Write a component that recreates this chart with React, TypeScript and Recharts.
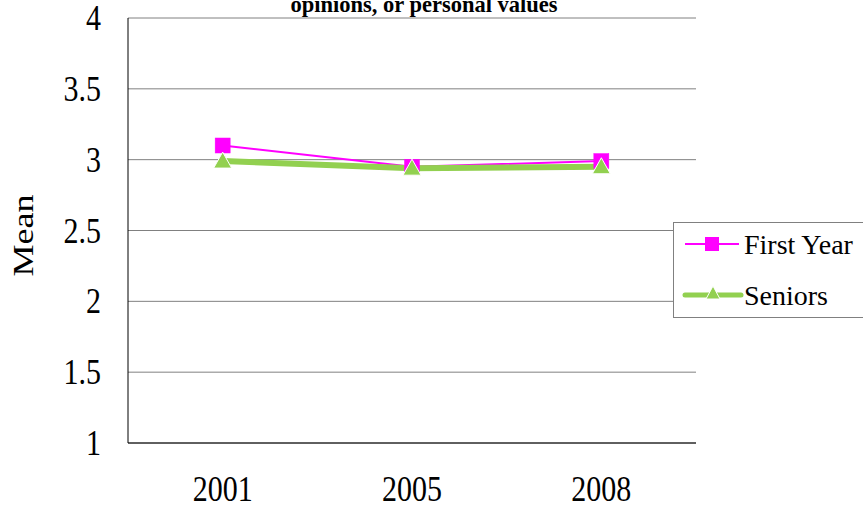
import React from 'react';
import { LineChart, Line, XAxis, YAxis, CartesianGrid, Legend } from 'recharts';

const years = ['2001', '2005', '2008'];
const firstYear = [3.1, 2.95, 2.99];
const seniors = [2.99, 2.94, 2.95];
const yTicks = [1, 1.5, 2, 2.5, 3, 3.5, 4];
const titleText = 'opinions, or personal values';
const yLabel = 'Mean';

const data = years.map((y, i) => ({ year: y, firstYear: firstYear[i], seniors: seniors[i] }));

const FONT = 'Liberation Serif, Times New Roman, serif';
const MAGENTA = '#FF00FF';
const GREEN = '#92D050';
const textStyle = { fontFamily: FONT };

const SquareDot = (props: any) => {
  const { cx, cy } = props;
  if (cx == null || cy == null) return null;
  return <rect x={cx - 7.5} y={cy - 7.5} width={15} height={15} fill={MAGENTA} stroke={MAGENTA} strokeWidth={0.5} />;
};

const TriangleDot = (props: any) => {
  const { cx, cy } = props;
  if (cx == null || cy == null) return null;
  const pts = `${cx},${cy - 9} ${cx - 9},${cy + 7} ${cx + 9},${cy + 7}`;
  return <polygon points={pts} fill={GREEN} stroke="#ffffff" strokeWidth={1} />;
};

const XTick = (props: any) => {
  const { x, y, payload } = props;
  return (
    <g transform={`translate(${x},${y + 58})`}>
      <text transform="scale(1,1.2)" textAnchor="middle" fontSize={30} fill="#000" style={textStyle}>
        {payload.value}
      </text>
    </g>
  );
};

const YTick = (props: any) => {
  const { x, y, payload } = props;
  return (
    <g transform={`translate(${x},${y + 12})`}>
      <text transform="scale(1,1.2)" textAnchor="end" fontSize={30} fill="#000" style={textStyle}>
        {String(payload.value)}
      </text>
    </g>
  );
};

const renderLegend = (props: any) => {
  const payload = props.payload || [];
  const rowsY = [22, 73];
  return (
    <div
      style={{
        width: 190,
        height: 96,
        border: '1px solid #808080',
        borderRight: 'none',
        background: '#ffffff',
        boxSizing: 'border-box',
      }}
    >
      <svg width={189} height={94} style={{ display: 'block' }}>
        {payload.map((entry: any, i: number) => {
          const cy = rowsY[i] - 1;
          const isFirst = i === 0;
          return (
            <g key={i}>
              {isFirst ? (
                <>
                  <line x1={11} x2={65} y1={cy} y2={cy} stroke={entry.color} strokeWidth={2} />
                  <rect x={31} y={cy - 7} width={14} height={14} fill={entry.color} />
                </>
              ) : (
                <>
                  <line x1={11} x2={67} y1={cy} y2={cy} stroke={entry.color} strokeWidth={5} strokeLinecap="round" />
                  <polygon points={`${39},${cy - 9} ${32},${cy + 4} ${46},${cy + 4}`} fill={entry.color} stroke="#fff" strokeWidth={1} />
                </>
              )}
              <text x={70} y={cy + 10} fontSize={28} fill="#000" style={textStyle}>
                {entry.value}
              </text>
            </g>
          );
        })}
      </svg>
    </div>
  );
};

const MeanLabel = (props: any) => {
  const vb = props.viewBox || { x: 0, y: 18, width: 128, height: 425 };
  const x = vb.x + 33;
  const y = vb.y + vb.height / 2 + 5;
  return (
    <text
      transform={`translate(${x},${y}) rotate(-90) scale(1.2,1)`}
      textAnchor="middle"
      fontSize={30}
      fill="#000"
      style={textStyle}
    >
      {yLabel}
    </text>
  );
};

export default function App() {
  return (
    <div style={{ position: 'relative', width: 863, height: 505, overflow: 'hidden', background: '#fff', fontFamily: FONT }}>
      <style>{'body{margin:0;}'}</style>
      <LineChart width={863} height={505} data={data} margin={{ top: 18, right: 167, bottom: 0, left: 0 }}>
        <CartesianGrid vertical={false} stroke="#808080" strokeWidth={1} />
        <XAxis
          dataKey="year"
          scale="band"
          height={62}
          tickLine={false}
          tickSize={0}
          tickMargin={0}
          axisLine={{ stroke: '#000', strokeWidth: 1 }}
          tick={<XTick />}
        />
        <YAxis
          domain={[1, 4]}
          ticks={yTicks}
          width={128}
          tickLine={false}
          tickSize={0}
          tickMargin={27}
          interval={0}
          axisLine={{ stroke: '#000', strokeWidth: 1 }}
          tick={<YTick />}
          label={<MeanLabel />}
        />
        <Legend
          layout="vertical"
          align="center"
          verticalAlign="middle"
          content={renderLegend}
          wrapperStyle={{ left: 673, top: 222, width: 190, height: 96 }}
        />
        <Line
          type="linear"
          dataKey="firstYear"
          name="First Year"
          stroke={MAGENTA}
          strokeWidth={2}
          dot={<SquareDot />}
          activeDot={false}
          isAnimationActive={false}
        />
        <Line
          type="linear"
          dataKey="seniors"
          name="Seniors"
          stroke={GREEN}
          strokeWidth={6}
          dot={<TriangleDot />}
          activeDot={false}
          isAnimationActive={false}
        />
      </LineChart>
      <svg width={863} height={30} style={{ position: 'absolute', left: 0, top: 0, pointerEvents: 'none' }}>
        <text x={424} y={12} textAnchor="middle" fontWeight="bold" fontSize={22.5} fill="#000" style={textStyle}>
          {titleText}
        </text>
      </svg>
    </div>
  );
}
